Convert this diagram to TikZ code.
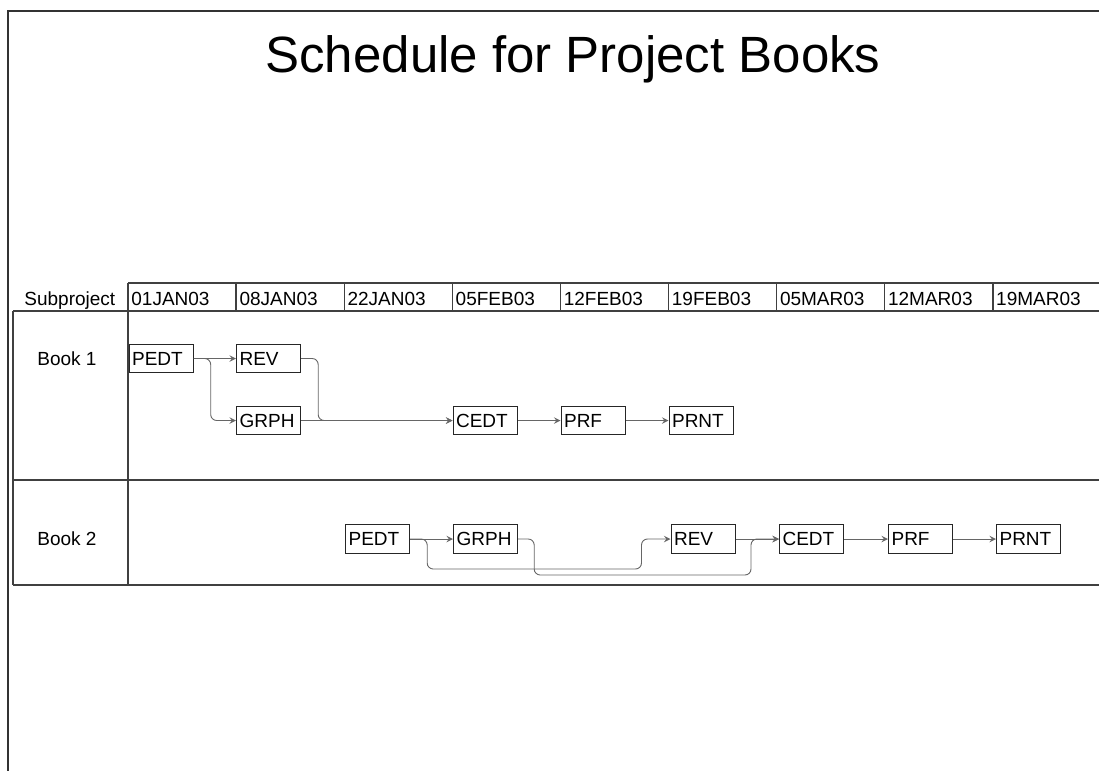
\documentclass[tikz,border=0pt]{standalone}
\usepackage{fontspec}
\setmainfont{Liberation Sans}
\usetikzlibrary{arrows, positioning, calc}

\begin{document}
\begin{tikzpicture}[x=0.5pt, y=-0.5pt, font=\fontsize{9.5}{11}\selectfont]
    % Styles
    \tikzstyle{task} = [rectangle, draw=black!85, line width=0.6pt, text width=29pt, inner xsep=1.5pt, inner ysep=0pt, minimum height=14.25pt, anchor=west, align=left]
    \tikzstyle{arrow} = [black!60, line width=0.45pt, ->, >=stealth, rounded corners=3pt]
    \tikzstyle{grid} = [black!75, line width=0.7pt]
    \tikzstyle{label} = [inner sep=0pt]
    \useasboundingbox (0,0) rectangle (1099,771);

    % Frame
    \draw[black!80, line width=0.8pt] (8,771) -- (8,11) -- (1099,11);

    % Title
    \node[font=\fontsize{25.5}{30}\selectfont, anchor=base] (title) at (573,72) {Schedule for Project Books};

    % Table
    \draw[grid] (128,283) -- (1099,283);
    \draw[grid] (13,311) -- (1099,311);
    \draw[grid] (13,480) -- (1099,480);
    \draw[grid] (13,585) -- (1099,585);
    \draw[grid] (13,311) -- (13,585);
    \draw[grid] (128,283) -- (128,585);
    \node[label, anchor=base west] (subproject) at (24,305) {Subproject};
    \foreach \d [count=\i from 0] in {01JAN03,08JAN03,22JAN03,05FEB03,12FEB03,19FEB03,05MAR03,12MAR03,19MAR03} {
        \draw[grid] (128+108.1*\i,283) -- (128+108.1*\i,311);
        \node[label, anchor=base west] (date\i) at (131+108.1*\i,305) {\d};
    }
    \node[label, anchor=west] (book1) at (37,358.5) {Book 1};
    \node[label, anchor=west] (book2) at (37,539) {Book 2};

    % Book 1
    \node[task] (b1pedt) at (128.5,358.5) {PEDT};
    \node[task] (b1rev) at (236,358.5) {REV};
    \node[task] (b1grph) at (236,420.5) {GRPH};
    \node[task] (b1cedt) at (452.5,420.5) {CEDT};
    \node[task] (b1prf) at (560.5,420.5) {PRF};
    \node[task] (b1prnt) at (668.5,420.5) {PRNT};

    % Book 2
    \node[task] (b2pedt) at (345,539) {PEDT};
    \node[task] (b2grph) at (453,539) {GRPH};
    \node[task] (b2rev) at (670.5,539) {REV};
    \node[task] (b2cedt) at (779,539) {CEDT};
    \node[task] (b2prf) at (888,539) {PRF};
    \node[task] (b2prnt) at (996,539) {PRNT};

    % Arrows
    \draw[arrow] (b1pedt) -- (b1rev);
    \draw[arrow] (b1pedt.east) -- ++(17,0) |- (b1grph.west);
    \draw[arrow] (b1rev.east) -- ++(17,0) |- (b1cedt.west);
    \draw[arrow] (b1grph) -- (b1cedt);
    \draw[arrow] (b1cedt) -- (b1prf);
    \draw[arrow] (b1prf) -- (b1prnt);

    \draw[arrow] (b2pedt) -- (b2grph);
    \draw[arrow] (b2pedt.east) -- ++(17,0) -- ++(0,30) -| ($(b2rev.west)+(-29,0)$) -- (b2rev.west);
    \draw[arrow] (b2grph.east) -- ++(16,0) -- ++(0,36) -| ($(b2cedt.west)+(-28,0)$) -- (b2cedt.west);
    \draw[arrow] (b2rev) -- (b2cedt);
    \draw[arrow] (b2cedt) -- (b2prf);
    \draw[arrow] (b2prf) -- (b2prnt);
\end{tikzpicture}
\end{document}
